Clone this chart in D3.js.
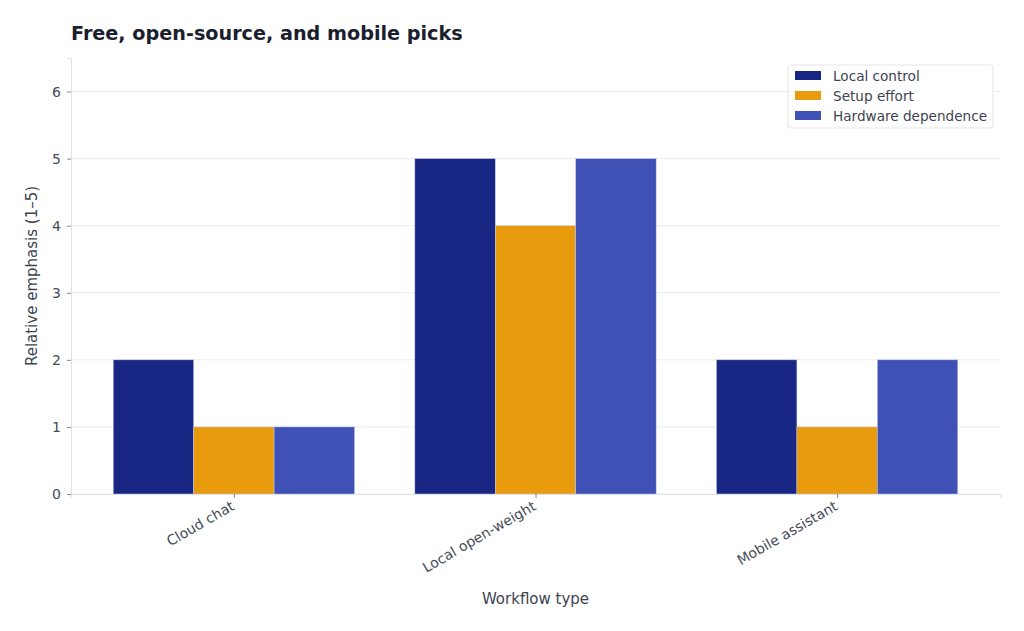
<!DOCTYPE html>
<html>
<head>
<meta charset="utf-8">
<script src="https://cdn.jsdelivr.net/npm/d3@7"></script>
<style>
  body { margin: 0; background: #fff; }
  svg { font-family: "DejaVu Sans", sans-serif; }
</style>
</head>
<body>
<svg id="chart" width="1024" height="631"></svg>
<script>
// chart data
const categories = ["Cloud chat", "Local open-weight", "Mobile assistant"];
const seriesNames = ["Local control", "Setup effort", "Hardware dependence"];
const localControl = [2, 5, 2];
const setupEffort = [1, 4, 1];
const hardwareDependence = [1, 5, 2];
const yTicks = [0, 1, 2, 3, 4, 5, 6];

const colors = ["#172783", "#e89b0c", "#3f51b5"];
const seriesValues = [localControl, setupEffort, hardwareDependence];

const margin = { top: 58, right: 24, bottom: 137, left: 71 },
    width = 1024 - margin.left - margin.right,
    height = 631 - margin.top - margin.bottom;

const svg = d3.select("#chart");
const g = svg.append("g")
    .attr("transform", "translate(" + margin.left + "," + margin.top + ")");

// x positions like matplotlib: index +- 0.4, 5% margins
const x = d3.scaleLinear().domain([-0.54, categories.length - 1 + 0.54]).range([0, width]);
const y = d3.scaleLinear().domain([0, 6.5]).range([height, 0]);
const barW = 0.8 / seriesNames.length;

// grid
g.append("g")
    .selectAll("line")
    .data(yTicks)
    .join("line")
    .attr("x1", 0)
    .attr("x2", width)
    .attr("y1", (d) => y(d))
    .attr("y2", (d) => y(d))
    .attr("stroke", "#e9ebee")
    .attr("stroke-width", 1);

// bars
const rows = [];
seriesValues.forEach((vals, s) => {
    vals.forEach((v, i) => rows.push({ s: s, i: i, v: v }));
});
g.append("g")
    .selectAll("rect")
    .data(rows)
    .join("rect")
    .attr("x", (d) => x(d.i - 0.4 + d.s * barW))
    .attr("width", (d) => x(barW) - x(0))
    .attr("y", (d) => y(d.v))
    .attr("height", (d) => y(0) - y(d.v))
    .attr("fill", (d) => colors[d.s])
    .attr("stroke", "#c5cbe9")
    .attr("stroke-width", 0.5);

// y axis
const yAxis = g.append("g")
    .call(d3.axisLeft(y).tickValues(yTicks).tickSize(4).tickPadding(6).tickFormat(d3.format("d")));
yAxis.select(".domain").attr("stroke", "#dfe2e6");
yAxis.selectAll(".tick line").attr("stroke", "#80868f");
yAxis.selectAll(".tick text")
    .attr("fill", "#454b58")
    .style("font-size", "14px")
    .style("font-family", "DejaVu Sans");

// x axis
const xAxis = g.append("g")
    .attr("transform", "translate(0," + height + ")")
    .call(d3.axisBottom(x).tickValues(d3.range(categories.length)).tickSize(4).tickFormat((d) => categories[d]));
xAxis.select(".domain").attr("stroke", "#dfe2e6");
xAxis.selectAll(".tick line").attr("stroke", "#80868f");
xAxis.selectAll(".tick text")
    .attr("fill", "#454b58")
    .style("font-size", "14px")
    .style("font-family", "DejaVu Sans")
    .attr("text-anchor", "end")
    .attr("dy", null)
    .attr("y", 0)
    .attr("transform", "translate(1,15) rotate(-30)");

// labels
svg.append("text")
    .attr("x", margin.left + x(1))
    .attr("y", 604)
    .attr("text-anchor", "middle")
    .attr("fill", "#3d4350")
    .style("font-size", "15px")
    .text("Workflow type");

svg.append("text")
    .attr("transform", "translate(37," + (margin.top + height / 2) + ") rotate(-90)")
    .attr("text-anchor", "middle")
    .attr("fill", "#3d4350")
    .style("font-size", "15px")
    .text("Relative emphasis (1\u20135)");

svg.append("text")
    .attr("x", 71)
    .attr("y", 40)
    .attr("fill", "#1a1e2e")
    .style("font-size", "19.2px")
    .style("font-weight", "bold")
    .text("Free, open-source, and mobile picks");

// legend
const legend = svg.append("g").attr("transform", "translate(788,65)");
legend.append("rect")
    .attr("width", 205)
    .attr("height", 63)
    .attr("rx", 3)
    .attr("fill", "#fff")
    .attr("fill-opacity", 0.9)
    .attr("stroke", "#e3e5e8");
seriesNames.forEach((name, i) => {
    legend.append("rect")
        .attr("x", 7)
        .attr("y", 6 + i * 20)
        .attr("width", 26)
        .attr("height", 9)
        .attr("fill", colors[i]);
    legend.append("text")
        .attr("x", 45)
        .attr("y", 16 + i * 20)
        .attr("fill", "#3d4350")
        .style("font-size", "13.6px")
        .text(name);
});
</script>
</body>
</html>
